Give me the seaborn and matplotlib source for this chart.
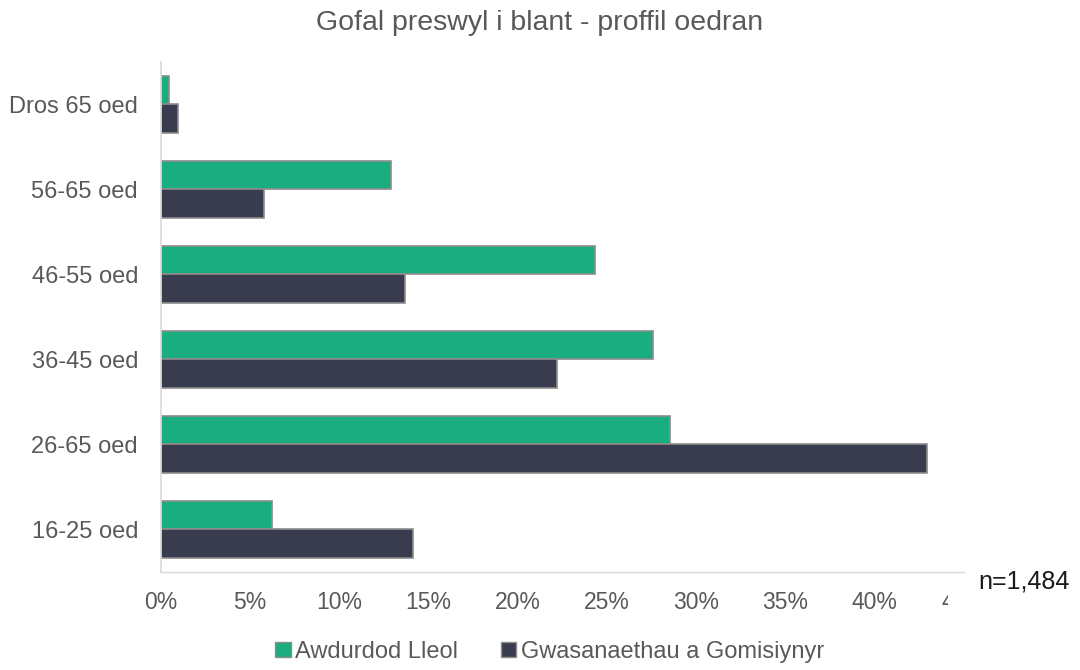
import pandas as pd
import seaborn as sns
import matplotlib.pyplot as plt
from matplotlib.transforms import Bbox
from matplotlib.ticker import PercentFormatter

# Data (percent)
categories = ["Dros 65 oed", "56-65 oed", "46-55 oed", "36-45 oed", "26-65 oed", "16-25 oed"]
series_names = ["Awdurdod Lleol", "Gwasanaethau a Gomisiynyr"]
awdurdod = [0.45, 12.9, 24.3, 27.6, 28.5, 6.2]
gwasanaethau = [0.95, 5.8, 13.7, 22.2, 42.9, 14.1]
colors = ["#19AD80", "#393B4F"]

df = pd.DataFrame({
    "oed": categories * 2,
    "grwp": [series_names[0]] * len(categories) + [series_names[1]] * len(categories),
    "gwerth": awdurdod + gwasanaethau,
})

sns.set_style("white")
plt.rcParams["font.family"] = ["Liberation Sans", "DejaVu Sans"]
text_col = "#595959"

fig = plt.figure(figsize=(10.8, 6.7), dpi=100)
ax = fig.add_axes([0.149, 0.1463, 0.7436, 0.7612])

sns.barplot(data=df, x="gwerth", y="oed", hue="grwp", order=categories,
            hue_order=series_names, palette=colors, width=0.66,
            edgecolor="#8C8C8C", linewidth=1.2, saturation=1, ax=ax, legend=False)

ax.set_xlim(0, 45)
ax.set_xticks(range(0, 50, 5))
ax.xaxis.set_major_formatter(PercentFormatter(decimals=0))
ax.set_xlabel("")
ax.set_ylabel("")
ax.tick_params(axis="both", length=0, colors=text_col)
ax.tick_params(axis="x", pad=14, labelsize=16.5)
ax.tick_params(axis="y", pad=16.5, labelsize=17)

for side in ["top", "right"]:
    ax.spines[side].set_visible(False)
ax.spines["left"].set_color("#D9D9D9")
ax.spines["bottom"].set_color("#D9D9D9")
ax.spines["left"].set_linewidth(1.2)
ax.spines["bottom"].set_linewidth(1.0)

# last tick label is cut off at the plot edge in the original
fig.canvas.draw()
clip = Bbox.from_extents(0, 0, 948, 670)
for lab in ax.get_xticklabels():
    lab.set_clip_box(clip)
    lab.set_clip_on(True)

fig.text(0.5, 1 - 30 / 670, "Gofal preswyl i blant - proffil oedran", ha="center",
         va="baseline", fontsize=20.5, color=text_col)

handles = [plt.Rectangle((0, 0), 1, 1, facecolor=c, edgecolor="#8C8C8C", linewidth=1) for c in colors]
fig.legend(handles, series_names, loc="center", bbox_to_anchor=(0.509, 0.027), ncol=2,
           frameon=False, fontsize=17, labelcolor=text_col, handlelength=0.65,
           handleheight=0.65, handletextpad=0.2, columnspacing=1.8)

fig.text(1070 / 1080, 1 - 581 / 670, "n=1,484", ha="right", va="center", fontsize=18, color="#1a1a1a")

fig.savefig("out.png", dpi=100)
